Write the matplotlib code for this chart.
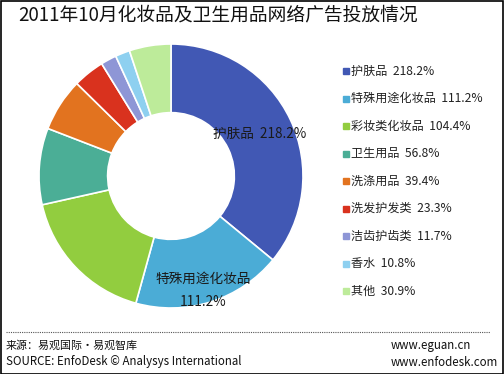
import numpy as np
import matplotlib
matplotlib.use("Agg")
import matplotlib.pyplot as plt
from matplotlib.patches import Rectangle
from matplotlib.lines import Line2D

plt.rcParams['font.family'] = ['Noto Sans CJK SC', 'DejaVu Sans']

title = '2011年10月化妆品及卫生用品网络广告投放情况'
categories = ['护肤品', '特殊用途化妆品', '彩妆类化妆品', '卫生用品', '洗涤用品',
              '洗发护发类', '洁齿护齿类', '香水', '其他']
values = [218.2, 111.2, 104.4, 56.8, 39.4, 23.3, 11.7, 10.8, 30.9]
colors = ['#4158B4', '#4BACD6', '#92CD3F', '#4BAE96', '#E2731F',
          '#D9321E', '#8E96D6', '#8ED0F0', '#BDEB9A']

W, H = 504, 374
fig = plt.figure(figsize=(W / 100, H / 100), dpi=100)

# donut
cx, cy, r = 171, 176, 132
ax = fig.add_axes([(cx - r) / W, 1 - (cy + r) / H, 2 * r / W, 2 * r / H])
wedges, _ = ax.pie(values, colors=colors, startangle=90, counterclock=False,
                   radius=1.0,
                   wedgeprops=dict(width=0.52, edgecolor='white', linewidth=1.2))
ax.set_xlim(-1, 1)
ax.set_ylim(-1, 1)
ax.set_aspect('equal')
ax.axis('off')

# labels on the two biggest slices
w = wedges[0]
mid = np.deg2rad((w.theta1 + w.theta2) / 2)
ax.text(0.74 * np.cos(mid), 0.74 * np.sin(mid),
        f'{categories[0]}  {values[0]}%', ha='center', va='center',
        fontsize=9.8, color='#1a1a1a')
w = wedges[1]
mid = np.deg2rad((w.theta1 + w.theta2) / 2 - 2)
x, y = 0.9 * np.cos(mid), 0.9 * np.sin(mid)
ax.text(x, y + 0.09, categories[1], ha='center', va='center',
        fontsize=9.8, color='#1a1a1a')
ax.text(x, y - 0.09, f'{values[1]}%', ha='center', va='center',
        fontsize=9.8, color='#1a1a1a')

# title
fig.text(18 / W, 1 - 15 / H, title, fontsize=13.5, fontweight='medium',
         ha='left', va='center', color='#111111')

# legend
ly0, dy = 71, 27.5
for i, (c, v) in enumerate(zip(categories, values)):
    y = 1 - (ly0 + i * dy) / H
    fig.patches.append(Rectangle((343 / W, y - 3 / H), 6 / W, 6 / H,
                                 transform=fig.transFigure, color=colors[i]))
    fig.text(351 / W, y, f'{c}  {v}%', fontsize=8.7, ha='left', va='center',
             color='#222222')

# footer
fig.lines.append(Line2D([6 / W, 490 / W], [1 - 332 / H, 1 - 332 / H],
                        transform=fig.transFigure, color='#555555',
                        linestyle=(0, (1, 1)), linewidth=0.8))
fig.text(6 / W, 1 - 346 / H, '来源：易观国际·易观智库', fontsize=7.9,
         ha='left', va='center', color='#111111')
fig.text(6 / W, 1 - 362 / H, 'SOURCE: EnfoDesk © Analysys International',
         fontsize=8.3, ha='left', va='center', color='#111111')
fig.text(391 / W, 1 - 346 / H, 'www.eguan.cn', fontsize=8.3,
         ha='left', va='center', color='#111111')
fig.text(391 / W, 1 - 362 / H, 'www.enfodesk.com', fontsize=8.3,
         ha='left', va='center', color='#111111')

# border
fig.patches.append(Rectangle((0.5 / W, 0.5 / H), (W - 1.5) / W, (H - 1.5) / H,
                             transform=fig.transFigure, fill=False,
                             edgecolor='black', linewidth=1.2))

fig.savefig('out.png', dpi=100)
